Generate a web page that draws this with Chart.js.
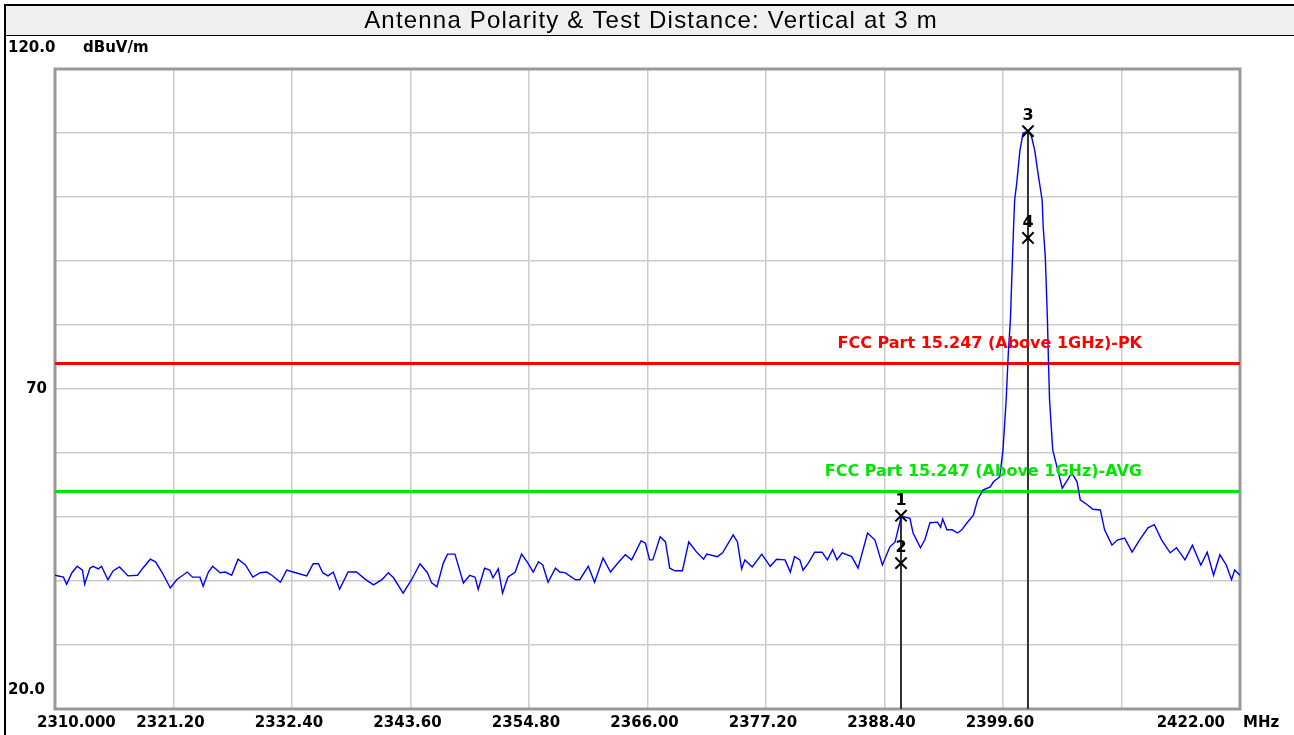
<!DOCTYPE html>
<html>
<head>
<meta charset="utf-8">
<script src="https://cdn.jsdelivr.net/npm/chart.js@4/dist/chart.umd.min.js"></script>
<style>
  body { margin: 0; background: #fff; }
  canvas { display: block; }
</style>
</head>
<body>
<canvas id="myChart" width="1294" height="735"></canvas>
<script>
// trace: frequency (MHz) and level (dBuV/m)
var freqs = [
  2310.0, 2310.8, 2311.1, 2311.6, 2312.1, 2312.6, 2312.8, 2313.3, 2313.6, 2314.1,
  2314.4, 2315.0, 2315.5, 2316.1, 2316.9, 2317.8, 2318.3, 2319.0, 2319.5, 2320.1,
  2320.9, 2321.5, 2322.5, 2323.0, 2323.7, 2324.0, 2324.5, 2324.9, 2325.6, 2326.1,
  2326.7, 2327.3, 2328.0, 2328.7, 2329.4, 2330.0, 2330.5, 2331.3, 2331.9, 2332.5,
  2333.8, 2334.4, 2334.9, 2335.3, 2335.8, 2336.3, 2336.9, 2337.7, 2338.5, 2339.3,
  2340.1, 2340.9, 2341.5, 2342.0, 2342.9, 2343.7, 2344.5, 2345.2, 2345.6, 2346.1,
  2346.7, 2347.1, 2347.8, 2348.6, 2349.2, 2349.7, 2350.0, 2350.6, 2351.1, 2351.4,
  2351.9, 2352.3, 2352.8, 2353.5, 2354.1, 2354.7, 2355.2, 2355.7, 2356.1, 2356.6,
  2357.3, 2357.7, 2358.2, 2359.2, 2359.6, 2360.4, 2361.0, 2361.8, 2362.5, 2363.2,
  2363.9, 2364.5, 2365.4, 2365.8, 2366.2, 2366.5, 2367.2, 2367.7, 2368.1, 2368.6,
  2369.3, 2369.9, 2370.7, 2371.3, 2371.6, 2372.6, 2373.1, 2374.1, 2374.5, 2374.9,
  2375.2, 2375.9, 2376.8, 2377.6, 2378.2, 2379.0, 2379.5, 2379.9, 2380.4, 2380.7,
  2381.2, 2381.8, 2382.5, 2383.0, 2383.5, 2383.9, 2384.4, 2385.3, 2385.9, 2386.8,
  2387.5, 2388.2, 2388.9, 2389.4, 2390.0, 2390.3, 2390.8, 2391.1, 2391.8, 2392.2,
  2392.7, 2393.4, 2393.7, 2393.9, 2394.3, 2394.8, 2395.3, 2395.7, 2396.2, 2396.8,
  2397.2, 2397.7, 2398.4, 2398.7, 2399.3, 2399.6, 2399.9, 2400.1, 2400.3, 2400.5,
  2400.6, 2400.7, 2400.9, 2401.2, 2401.5, 2402.0, 2402.3, 2402.6, 2402.9, 2403.3,
  2403.4, 2403.6, 2403.8, 2403.9, 2404.0, 2404.3, 2405.2, 2405.7, 2406.1, 2406.6,
  2406.9, 2407.5, 2408.1, 2408.8, 2409.2, 2409.9, 2410.4, 2411.1, 2411.8, 2412.5,
  2413.3, 2413.9, 2414.6, 2415.4, 2416.0, 2416.8, 2417.5, 2418.3, 2418.9, 2419.5,
  2420.1, 2420.7, 2421.2, 2421.5, 2422.0
];
var levels = [
  40.9, 40.6, 39.5, 41.3, 42.3, 41.7, 39.5, 42.0, 42.3, 41.9,
  42.3, 40.2, 41.6, 42.2, 40.8, 40.9, 42.0, 43.4, 43.0, 41.4,
  38.9, 40.2, 41.4, 40.6, 40.6, 39.2, 41.4, 42.3, 41.3, 41.4,
  40.9, 43.4, 42.5, 40.6, 41.3, 41.4, 40.9, 39.8, 41.7, 41.4,
  40.8, 42.7, 42.7, 41.3, 40.8, 41.4, 38.7, 41.4, 41.4, 40.3,
  39.4, 40.2, 41.3, 40.5, 38.1, 40.2, 42.7, 41.3, 39.7, 39.1,
  42.8, 44.2, 44.2, 39.7, 40.9, 40.6, 38.7, 42.0, 41.7, 40.5,
  41.9, 38.1, 40.6, 41.4, 44.2, 42.8, 41.4, 43.0, 42.5, 39.8,
  42.0, 41.4, 41.3, 40.2, 40.2, 42.3, 39.8, 43.6, 41.4, 42.8,
  44.1, 43.3, 46.3, 45.9, 43.3, 43.3, 46.9, 46.1, 42.0, 41.6,
  41.6, 46.1, 44.4, 43.4, 44.2, 43.8, 44.4, 47.2, 46.1, 41.9,
  43.3, 42.2, 44.2, 42.3, 43.4, 43.3, 41.4, 43.8, 43.3, 41.7,
  42.8, 44.5, 44.5, 43.3, 44.9, 43.3, 44.4, 43.8, 42.0, 47.5,
  46.4, 42.5, 45.3, 46.1, 50.2, 50.0, 49.8, 47.5, 45.2, 46.4,
  49.1, 49.2, 48.4, 49.7, 48.0, 48.0, 47.5, 48.0, 49.1, 50.3,
  52.7, 54.2, 54.7, 55.5, 56.3, 60.5, 68.3, 75.6, 80.8, 90.6,
  95.3, 99.5, 102.2, 107.3, 110.0, 110.3, 109.4, 107.3, 103.8, 99.5,
  95.3, 90.6, 80.8, 74.1, 68.3, 60.5, 54.5, 55.8, 56.9, 55.5,
  52.7, 52.0, 51.2, 51.1, 48.0, 45.6, 46.4, 46.7, 44.5, 46.4,
  48.3, 48.8, 46.4, 44.4, 45.2, 43.3, 45.6, 42.5, 44.5, 40.9,
  44.1, 42.5, 40.2, 41.7, 40.9
];

var markerFreqs = [2389.96, 2389.96, 2401.96, 2401.96];
var markerLevels = [50.2, 42.8, 110.3, 93.6];
var markerNames = ["1", "2", "3", "4"];

var pkLimit = 74;
var avgLimit = 54;

var xTicks = [2310, 2321.2, 2332.4, 2343.6, 2354.8, 2366, 2377.2, 2388.4, 2399.6, 2410.8, 2422];
var xTickLabels = ["2310.000", "2321.20", "2332.40", "2343.60", "2354.80", "2366.00", "2377.20", "2388.40", "2399.60", "", "2422.00"];

var titleText = "Antenna Polarity & Test Distance: Vertical at 3 m";
var labelFont = 'bold 15px "DejaVu Sans"';

var trace = freqs.map(function (f, i) { return { x: f, y: levels[i] }; });
var markers = markerFreqs.map(function (f, i) { return { x: f, y: markerLevels[i] }; });

var framePlugin = {
  id: "frame",
  beforeDraw: function (chart) {
    var c = chart.ctx;
    c.save();
    c.fillStyle = "#fff";
    c.fillRect(0, 0, chart.width, chart.height);
    // title bar
    c.fillStyle = "#f0f0f0";
    c.fillRect(6, 6, chart.width - 6, 29);
    c.fillStyle = "#000";
    c.fillRect(4, 4, chart.width - 4, 2);
    c.fillRect(4, 4, 2, chart.height - 4);
    c.fillRect(6, 35, chart.width - 6, 1);
    c.font = '24px "Liberation Sans", Arial';
    c.letterSpacing = "1.2px";
    c.textAlign = "center";
    c.textBaseline = "middle";
    c.fillText(titleText, 651, 21);
    c.letterSpacing = "0px";
    c.restore();
  },
  beforeDatasetsDraw: function (chart) {
    var a = chart.chartArea;
    var c = chart.ctx;
    c.save();
    c.strokeStyle = "#999";
    c.lineWidth = 3;
    c.strokeRect(a.left, a.top, a.right - a.left, a.bottom - a.top);
    c.restore();
  },
  afterDraw: function (chart) {
    var c = chart.ctx;
    var xs = chart.scales.x;
    var ys = chart.scales.y;
    c.save();
    c.fillStyle = "#000";
    c.font = labelFont;
    c.textBaseline = "middle";

    // y labels
    c.textAlign = "left";
    c.fillText("120.0", 8, ys.getPixelForValue(120) - 21);
    c.fillText("dBuV/m", 83, ys.getPixelForValue(120) - 21);
    c.fillText("20.0", 8, ys.getPixelForValue(20) - 19);
    c.textAlign = "right";
    c.fillText("70", 47, ys.getPixelForValue(70));

    // x labels
    var ly = ys.getPixelForValue(20) + 14;
    xTicks.forEach(function (v, i) {
      var lbl = xTickLabels[i];
      if (!lbl) return;
      var px = xs.getPixelForValue(v);
      if (i === 0) {
        c.textAlign = "left";
        c.fillText(lbl, px - 18, ly);
      } else if (i === xTicks.length - 1) {
        c.textAlign = "right";
        c.fillText(lbl, px - 15, ly);
        c.textAlign = "left";
        c.fillText("MHz", px + 3, ly);
      } else {
        c.textAlign = "center";
        c.fillText(lbl, px - 3, ly);
      }
    });

    // limit line names
    c.font = 'bold 16px "DejaVu Sans"';
    c.textAlign = "right";
    c.fillStyle = "#ff0000";
    c.fillText("FCC Part 15.247 (Above 1GHz)-PK", 1142, ys.getPixelForValue(pkLimit) - 20);
    c.fillStyle = "#00e600";
    c.fillText("FCC Part 15.247 (Above 1GHz)-AVG", 1142, ys.getPixelForValue(avgLimit) - 20);

    // marker numbers
    c.font = 'bold 16px "DejaVu Sans"';
    c.fillStyle = "#000";
    c.textAlign = "center";
    var meta = chart.getDatasetMeta(0);
    meta.data.forEach(function (pt, i) {
      c.fillText(markerNames[i], pt.x, pt.y - 15);
    });
    c.restore();
  }
};

var datasets = [
  {
    label: "markers",
    data: markers,
    showLine: false,
    pointStyle: "crossRot",
    pointRadius: 8,
    pointBorderWidth: 2,
    borderColor: "#000",
    backgroundColor: "#000",
  },
  {
    label: "trace",
    data: trace,
    borderColor: "#0000ff",
    borderWidth: 1.4,
    pointRadius: 0,
    tension: 0,
  },
  {
    label: "PK",
    data: [{ x: 2310, y: pkLimit }, { x: 2422, y: pkLimit }],
    borderColor: "#ff0000",
    borderWidth: 3,
    pointRadius: 0,
  },
  {
    label: "AVG",
    data: [{ x: 2310, y: avgLimit }, { x: 2422, y: avgLimit }],
    borderColor: "#00e600",
    borderWidth: 3,
    pointRadius: 0,
  },
];

// vertical lines from markers 1 and 3 down to the bottom
[0, 2].forEach(function (i) {
  datasets.push({
    label: "mk" + markerNames[i],
    data: [{ x: markerFreqs[i], y: markerLevels[i] }, { x: markerFreqs[i], y: 20 }],
    borderColor: "#333",
    borderWidth: 2,
    pointRadius: 0,
  });
});

var ctx = document.getElementById("myChart").getContext("2d");
var chart = new Chart(ctx, {
  type: "line",
  data: { datasets: datasets },
  plugins: [framePlugin],
  options: {
    responsive: false,
    animation: false,
    layout: { padding: { left: 55, right: 54, top: 69, bottom: 26 } },
    plugins: {
      legend: { display: false },
      tooltip: { enabled: false },
      title: { display: false },
    },
    scales: {
      x: {
        type: "linear",
        min: 2310,
        max: 2422,
        afterBuildTicks: function (s) {
          s.ticks = xTicks.map(function (v) { return { value: v }; });
        },
        ticks: { display: false },
        grid: { color: "#cccccc", lineWidth: 1.5, drawTicks: false },
        border: { display: false },
      },
      y: {
        type: "linear",
        min: 20,
        max: 120,
        ticks: { display: false, stepSize: 10 },
        grid: { color: "#cccccc", lineWidth: 1.5, drawTicks: false },
        border: { display: false },
      },
    },
  },
});
</script>
</body>
</html>
